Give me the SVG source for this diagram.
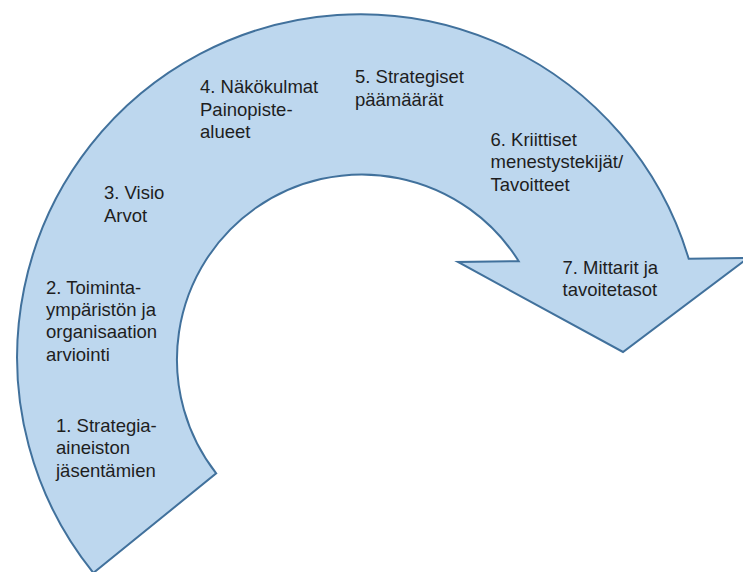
<svg xmlns="http://www.w3.org/2000/svg" width="743" height="572" viewBox="0 0 743 572">
  <style>
    .arrow { fill: #bdd7ee; stroke: #41719c; stroke-width: 2; stroke-linejoin: miter; }
    .label { font-family: "Liberation Sans", Arial, sans-serif; font-size: 18.5px; fill: #1e1e1e; }
  </style>
  <rect width="743" height="572" fill="#ffffff"/>

  <!-- curved process arrow: concentric arcs around (360,357), outer r=343, inner r=185 -->
  <g id="process-arrow">
    <path class="arrow" d="M 93.4 572.9 A 343 343 0 1 1 688.7 258.8 L 748 258 L 623 352 L 458 262 L 518.7 261.2 A 185 185 0 1 0 216.2 473.4 Z"/>
  </g>

  <g id="step-1">
    <text class="label" x="56" y="431.5">1. Strategia-</text>
    <text class="label" x="56" y="454">aineiston</text>
    <text class="label" x="56" y="476.5">jäsentämien</text>
  </g>
  <g id="step-2">
    <text class="label" x="46" y="294">2. Toiminta-</text>
    <text class="label" x="46" y="316.2">ympäristön ja</text>
    <text class="label" x="46" y="338.4">organisaation</text>
    <text class="label" x="46" y="360.6">arviointi</text>
  </g>
  <g id="step-3">
    <text class="label" x="104" y="199">3. Visio</text>
    <text class="label" x="104" y="221.5">Arvot</text>
  </g>
  <g id="step-4">
    <text class="label" x="200" y="93">4. Näkökulmat</text>
    <text class="label" x="200" y="115.5">Painopiste-</text>
    <text class="label" x="200" y="138">alueet</text>
  </g>
  <g id="step-5">
    <text class="label" x="355" y="83">5. Strategiset</text>
    <text class="label" x="355" y="105.5">päämäärät</text>
  </g>
  <g id="step-6">
    <text class="label" x="490.5" y="145.7">6. Kriittiset</text>
    <text class="label" x="490.5" y="168.2">menestystekijät/</text>
    <text class="label" x="490.5" y="190.7">Tavoitteet</text>
  </g>
  <g id="step-7">
    <text class="label" x="562.5" y="273.5">7. Mittarit ja</text>
    <text class="label" x="562.5" y="296">tavoitetasot</text>
  </g>
</svg>
